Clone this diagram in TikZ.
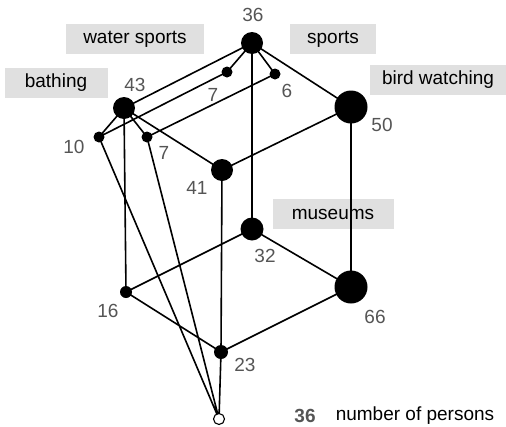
\documentclass[tikz,border=0pt]{standalone}
\usepackage{fontspec}
\setmainfont{Liberation Sans}
\definecolor{numgray}{HTML}{555555}
\definecolor{boxgray}{HTML}{E0E0E0}
\begin{document}
\begin{tikzpicture}[x=1pt,y=-1pt,
  concept/.style={circle,fill=black,inner sep=0pt,minimum size=#1},
  edge/.style={line width=1.6pt},
  count/.style={text=numgray,font=\fontsize{19}{19}\selectfont,inner sep=0pt},
  attr/.style={fill=boxgray,font=\fontsize{19}{19}\selectfont,inner sep=0pt,
    minimum height=30pt}]
\useasboundingbox (0,0) rectangle (506,426);

% attribute labels
\node[attr,minimum width=138pt] (lws) at (135,39) {water sports};
\node[attr,minimum width=103pt] (lba) at (56,83) {bathing};
\node[attr,minimum width=86pt] (lsp) at (333,39) {sports};
\node[attr,minimum width=136pt] (lbw) at (438,80) {bird watching};
\node[attr,minimum width=121pt] (lmu) at (333,214) {museums};

% concept positions
\coordinate (p36) at (252,43);
\coordinate (p50) at (351,107);
\coordinate (p7a) at (227,72);
\coordinate (p6) at (275,74);
\coordinate (p43) at (124,108);
\coordinate (p10) at (99,137);
\coordinate (p7b) at (147,137);
\coordinate (p41) at (222,170);
\coordinate (p32) at (252,229);
\coordinate (p66) at (351,287);
\coordinate (p16) at (126,292);
\coordinate (p23) at (221,352);
\coordinate (pbot) at (219,419);

% lattice edges
\draw[edge] (p36) -- (p7a) (p36) -- (p6) (p36) -- (p50) (p36) -- (p43) (p36) -- (p32)
  (p43) -- (p10) (p43) -- (p7b) (p43) -- (p41) (p43) -- (p16)
  (p7a) -- (p10) (p6) -- (p7b)
  (p50) -- (p41) (p50) -- (p66)
  (p41) -- (p23)
  (p32) -- (p16) (p32) -- (p66)
  (p16) -- (p23) (p66) -- (p23)
  (p23) -- (pbot) (p10) -- (pbot) (p7b) -- (pbot);

% concepts
\node[concept=22pt] (c36) at (p36) {};
\node[concept=33pt] (c50) at (p50) {};
\node[concept=11pt] (c7a) at (p7a) {};
\node[concept=11pt] (c6) at (p6) {};
\node[concept=22pt] (c43) at (p43) {};
\node[concept=11pt] (c10) at (p10) {};
\node[concept=11pt] (c7b) at (p7b) {};
\node[concept=22pt] (c41) at (p41) {};
\node[concept=23pt] (c32) at (p32) {};
\node[concept=33pt] (c66) at (p66) {};
\node[concept=12pt] (c16) at (p16) {};
\node[concept=14pt] (c23) at (p23) {};
\node[circle,draw=black,fill=white,line width=1.1pt,inner sep=0pt,minimum size=11pt] (cbot) at (pbot) {};

% object counts
\node[count] (n36) at (253,15) {36};
\node[count] (n43) at (135,85) {43};
\node[count] (n7a) at (213,95) {7};
\node[count] (n6) at (287,91) {6};
\node[count] (n50) at (382,125) {50};
\node[count] (n10) at (74,147) {10};
\node[count] (n7b) at (164,153) {7};
\node[count] (n41) at (197,188) {41};
\node[count] (n32) at (265,256) {32};
\node[count] (n66) at (375,317) {66};
\node[count] (n16) at (108,311) {16};
\node[count] (n23) at (245,365) {23};

% legend
\node[count,font=\bfseries\fontsize{19}{19}\selectfont] (legnum) at (305,416) {36};
\node[inner sep=0pt,font=\fontsize{19}{19}\selectfont] (legtxt) at (415,416) {number of persons};
\end{tikzpicture}
\end{document}
